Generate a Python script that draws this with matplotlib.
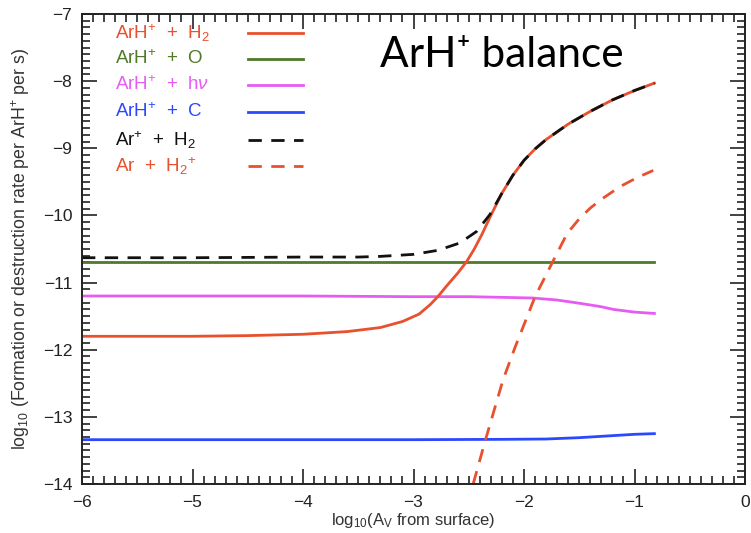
import matplotlib
matplotlib.use("Agg")
import matplotlib.pyplot as plt
from matplotlib.ticker import MultipleLocator
import matplotlib.transforms as mtransforms

plt.rcParams['font.family'] = ['Liberation Sans', 'DejaVu Sans']
plt.rcParams['mathtext.fontset'] = 'custom'
plt.rcParams['mathtext.rm'] = 'Liberation Sans'
plt.rcParams['mathtext.it'] = 'Liberation Sans:italic'
plt.rcParams['mathtext.bf'] = 'Liberation Sans:bold'

# ArH+ + H2 (destruction)
x_h2 = [-6, -5, -4.5, -4, -3.6, -3.3, -3.1, -2.95, -2.85, -2.78, -2.7, -2.6,
        -2.52, -2.45, -2.38, -2.3, -2.2, -2.1, -2.0, -1.9, -1.8, -1.6, -1.4,
        -1.2, -1.0, -0.82]
y_h2 = [-11.8, -11.8, -11.79, -11.77, -11.73, -11.67, -11.58, -11.47, -11.33,
        -11.21, -11.05, -10.86, -10.69, -10.50, -10.28, -10.0, -9.67, -9.40,
        -9.18, -9.01, -8.87, -8.64, -8.45, -8.28, -8.14, -8.03]

# ArH+ + O
x_o = [-6, -0.82]
y_o = [-10.7, -10.7]

# ArH+ + hv
x_hv = [-6, -4, -3, -2.5, -2.2, -1.92, -1.7, -1.49, -1.3, -1.19, -1.0, -0.82]
y_hv = [-11.2, -11.2, -11.21, -11.21, -11.22, -11.23, -11.26, -11.31, -11.36,
        -11.40, -11.44, -11.46]

# ArH+ + C
x_c = [-6, -3, -2.2, -1.8, -1.5, -1.2, -1.0, -0.82]
y_c = [-13.34, -13.34, -13.335, -13.33, -13.31, -13.28, -13.26, -13.25]

# Ar+ + H2 (formation)
x_arp = [-6, -5, -4, -3.5, -3.3, -3.0, -2.78, -2.58, -2.43, -2.31, -2.2, -2.1,
         -2.0, -1.9, -1.8, -1.6, -1.4, -1.2, -1.0, -0.82]
y_arp = [-10.63, -10.63, -10.62, -10.62, -10.61, -10.58, -10.52, -10.41,
         -10.24, -9.99, -9.67, -9.40, -9.18, -9.01, -8.87, -8.64, -8.45, -8.28,
         -8.14, -8.03]

# Ar + H2+ (formation)
x_h2p = [-2.46, -2.35, -2.19, -2.08, -1.9, -1.74, -1.61, -1.5, -1.4, -1.3,
         -1.13, -0.98, -0.83]
y_h2p = [-14.0, -13.35, -12.45, -11.96, -11.21, -10.69, -10.27, -10.05, -9.89,
         -9.76, -9.57, -9.44, -9.33]

RED = '#e8502e'
GREEN = '#4f7a28'
MAGENTA = '#e65cf2'
BLUE = '#2b48ff'
BLACK = '#111111'

labels = [r'ArH$^{+}$  +  H$_{2}$', r'ArH$^{+}$  +  O', r'ArH$^{+}$  +  h$\nu$',
          r'ArH$^{+}$  +  C', r'Ar$^{+}$  +  H$_{2}$', r'Ar  +  H$_{2}$$^{+}$']

fig = plt.figure(figsize=(7.51, 5.33), dpi=100)
ax = fig.add_axes([82 / 751, 1 - 484 / 533, (745 - 82) / 751, (484 - 14) / 533])

lw = 2.0
dash = (0, (4.8, 3.4))
ax.plot(x_o, y_o, color=GREEN, lw=lw)
ax.plot(x_hv, y_hv, color=MAGENTA, lw=lw)
ax.plot(x_c, y_c, color=BLUE, lw=lw)
ax.plot(x_h2, y_h2, color=RED, lw=lw)
ax.plot(x_arp, y_arp, color=BLACK, lw=lw, linestyle=dash)
ax.plot(x_h2p, y_h2p, color=RED, lw=lw, linestyle=dash)

ax.set_xlim(-6, 0)
ax.set_ylim(-14, -7)
ax.xaxis.set_major_locator(MultipleLocator(1))
ax.xaxis.set_minor_locator(MultipleLocator(0.1))
ax.yaxis.set_major_locator(MultipleLocator(1))
ax.yaxis.set_minor_locator(MultipleLocator(0.1))
ax.tick_params(which='both', direction='in', top=True, right=True,
               colors='#222222', labelsize=12.5, width=1.2)
ax.tick_params(which='major', length=11, pad=7)
ax.tick_params(which='minor', length=5.5)
ax.tick_params(axis='x', pad=8)
for s in ax.spines.values():
    s.set_linewidth(1.4)
    s.set_color('#222222')

ax.set_xlabel(r'log$_{10}$(A$_{\rm V}$ from surface)', fontsize=12,
              color='#333333', labelpad=1)
ax.set_ylabel(r'log$_{10}$ (Formation or destruction rate per ArH$^{+}$ per s)',
              fontsize=12.8, color='#333333', labelpad=8)

# legend: coloured labels with line samples to their right
colors = [RED, GREEN, MAGENTA, BLUE, BLACK, RED]
styles = ['-', '-', '-', '-', dash, dash]
row_y = [33, 59, 85, 112, 140, 166]
trans = mtransforms.blended_transform_factory(ax.transAxes, ax.transAxes)
for lab, c, ls, py in zip(labels, colors, styles, row_y):
    fy = (484 - py) / (484 - 14)
    ax.text((115 - 82) / 663, fy, lab, color=c, fontsize=13.5,
            va='center', ha='left', transform=trans)
    ax.plot([(248 - 82) / 663, (303 - 82) / 663], [fy, fy], color=c, lw=lw,
            linestyle=ls, transform=trans, clip_on=False)

fig.text(380 / 751, 1 - 55 / 533, 'ArH\u207a balance', fontsize=30.5,
         family=['Lato', 'DejaVu Sans'], color='black', va='center', ha='left')

fig.savefig('out.png', dpi=100)
